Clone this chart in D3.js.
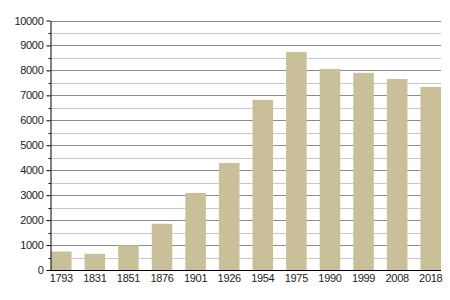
<!DOCTYPE html>
<html>
<head>
<meta charset="utf-8">
<script src="https://cdn.jsdelivr.net/npm/d3@7"></script>
<style>
  body { margin: 0; background: #fff; }
  svg text { font-family: "Liberation Sans", Arial, sans-serif; }
</style>
</head>
<body>
<div id="chart"></div>
<script>
// data
const years = ["1793", "1831", "1851", "1876", "1901", "1926", "1954", "1975", "1990", "1999", "2008", "2018"];
const population = [740, 650, 990, 1850, 3090, 4290, 6820, 8740, 8060, 7900, 7655, 7335];
const yTicks = [0, 1000, 2000, 3000, 4000, 5000, 6000, 7000, 8000, 9000, 10000];

const W = 450, H = 300;
const plotLeft = 51, plotRight = 441, plotTop = 20.5, plotBottom = 270;

const svg = d3.select("#chart")
    .append("svg")
    .attr("width", W)
    .attr("height", H);

const x = d3.scaleBand()
    .domain(years)
    .range([plotLeft, plotRight])
    .paddingInner(0.388)
    .paddingOuter(0);

const y = d3.scaleLinear()
    .domain([0, 10000])
    .range([plotBottom, plotTop]);

const minor = d3.range(500, 10000, 1000);

// grid lines
svg.append("g")
    .selectAll("line")
    .data(minor)
    .join("line")
    .attr("x1", plotLeft).attr("x2", plotRight)
    .attr("y1", d => Math.round(y(d)) + 0.5)
    .attr("y2", d => Math.round(y(d)) + 0.5)
    .attr("stroke", "#c8c8c8");

svg.append("g")
    .selectAll("line")
    .data(yTicks.slice(1))
    .join("line")
    .attr("x1", plotLeft).attr("x2", plotRight)
    .attr("y1", d => Math.round(y(d)) + 0.5)
    .attr("y2", d => Math.round(y(d)) + 0.5)
    .attr("stroke", "#8c8c8c");

// bars
svg.append("g")
    .selectAll("rect")
    .data(years)
    .join("rect")
    .attr("x", d => x(d))
    .attr("width", x.bandwidth())
    .attr("y", (d, i) => y(population[i]))
    .attr("height", (d, i) => plotBottom - y(population[i]))
    .attr("fill", "#c9c09a");

// y axis
const yAxis = svg.append("g")
    .attr("transform", "translate(50.5,0)")
    .call(d3.axisLeft(y).tickValues(yTicks).tickSize(4).tickSizeOuter(0).tickFormat(d3.format("d")));

yAxis.append("g")
    .selectAll("line")
    .data(minor)
    .join("line")
    .attr("x1", -2).attr("x2", 0)
    .attr("y1", d => Math.round(y(d)) + 0.5)
    .attr("y2", d => Math.round(y(d)) + 0.5)
    .attr("stroke", "#000");

// x axis
const xAxis = svg.append("g")
    .attr("transform", `translate(0,${plotBottom + 0.5})`)
    .call(d3.axisBottom(x).tickSize(0).tickSizeOuter(0).tickPadding(4));

xAxis.select(".domain").attr("d", `M50,0H${plotRight}`);

svg.selectAll(".tick text")
    .attr("font-size", 11)
    .attr("fill", "#222")
    .style("letter-spacing", "-0.3px");
</script>
</body>
</html>
